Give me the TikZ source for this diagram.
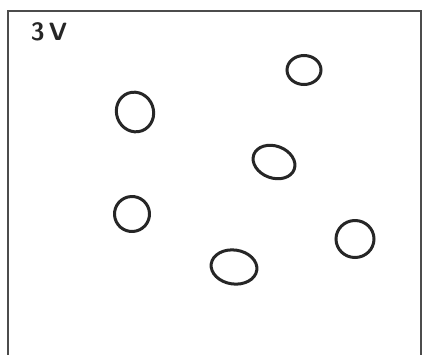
\documentclass[tikz,border=0pt]{standalone}
\usetikzlibrary{shapes.geometric}
\begin{document}
\begin{tikzpicture}[x=1pt,y=-1pt,
  blob/.style={ellipse,draw=black!85,line width=3pt,inner sep=0pt,fill=none},
  frame/.style={draw=black!70,line width=1.6pt}]
\useasboundingbox (0,0) rectangle (422,354);
\clip (0,0) rectangle (422,354);
\fill[white] (0,0) rectangle (422,354);
\draw[frame] (8,11) rectangle (421,370);
\node[anchor=center,font=\sffamily\bfseries\fontsize{25}{25}\selectfont,text=black!85] (lbl) at (49,32) {3\,V};
\node[blob,minimum width=34pt,minimum height=29pt] (c1) at (304,70) {};
\node[blob,minimum width=37pt,minimum height=40pt,rotate=20] (c2) at (135,112) {};
\node[blob,minimum width=43pt,minimum height=32pt,rotate=-20] (c3) at (274,162) {};
\node[blob,minimum width=35pt,minimum height=35pt,rotate=15] (c4) at (132,214) {};
\node[blob,minimum width=46pt,minimum height=34pt,rotate=-8] (c5) at (234,267) {};
\node[blob,minimum width=38pt,minimum height=37pt] (c6) at (355,239) {};
\end{tikzpicture}
\end{document}
